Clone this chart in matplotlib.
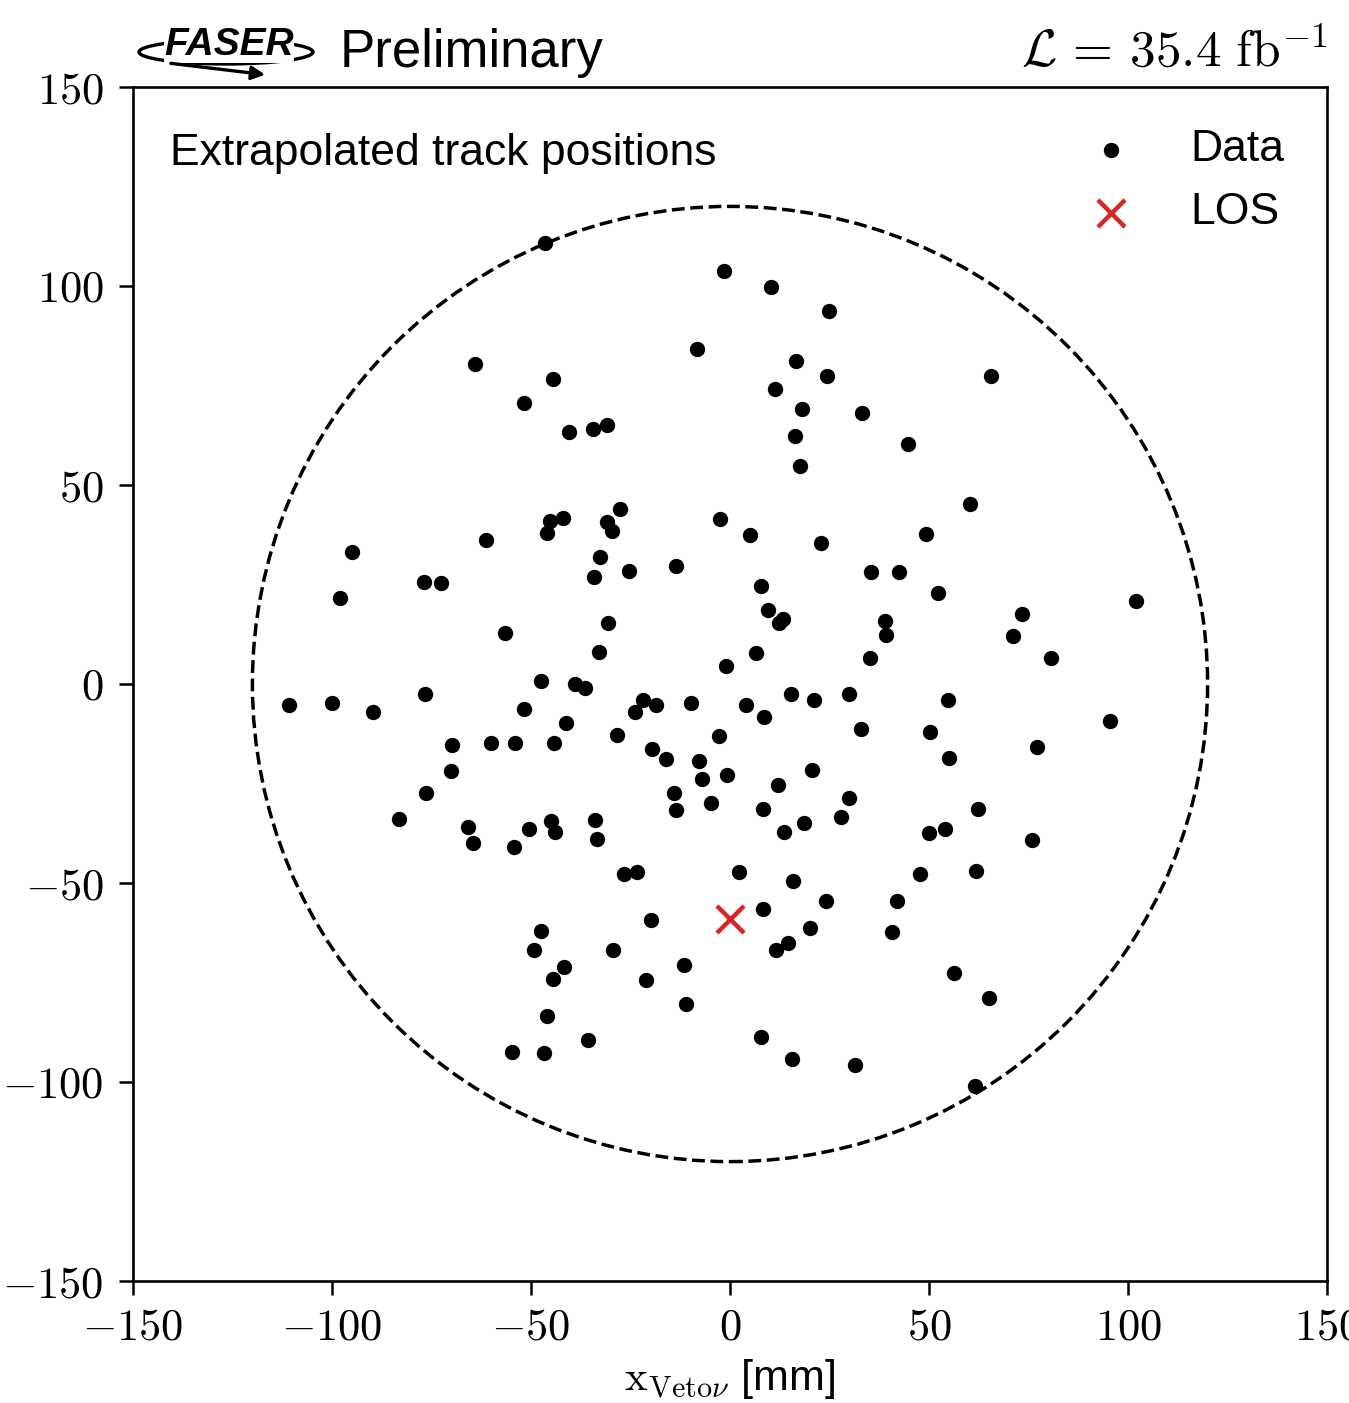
import matplotlib.pyplot as plt
from matplotlib.patches import Circle, Ellipse
from matplotlib.ticker import FixedLocator, FuncFormatter

plt.rcParams['font.family'] = ['Liberation Sans', 'DejaVu Sans']
plt.rcParams['mathtext.fontset'] = 'cm'

# extrapolated track positions at the veto station [mm]
track_x = [-46.5, -1.5, 10.3, 24.9, -64.1, -8.3, -44.5, 16.6, 24.4, 11.3,
           65.6, -51.8, 18.1, 33.2, -40.5, -34.4, -30.9, 16.3, 44.7, 17.6,
           60.3, -27.6, -42.0, -45.2, -30.9, -46.0, -29.6, -2.5, 5.0, 49.2,
           22.9, -61.3, -95.0, -32.7, -13.6, -25.4, -34.2, -76.9, -72.6, 35.4,
           42.5, 7.8, -98.0, 52.3, 102.0, 9.5, 12.3, 13.3, 38.9, 73.4,
           -30.7, -56.5, 71.1, 39.2, -32.9, 6.5, 35.2, 80.7, -1.0, -47.5,
           -38.9, -36.4, -76.6, -110.8, -100.0, -89.7, -51.8, -41.2, -21.9, -23.9,
           -18.6, -9.8, 4.0, 8.5, 15.3, 21.1, 29.9, 54.8, 32.9, 95.5,
           -69.8, -60.1, -54.0, -44.2, -28.4, -2.8, 50.3, -19.6, -16.1, -7.8,
           55.0, 77.1, -70.1, -7.0, -0.8, 20.6, 12.1, -76.4, -14.1, -13.6,
           -4.8, 29.9, -83.2, -33.9, 8.3, 27.9, 62.3, -65.8, -50.5, -45.0,
           -44.0, 13.6, 18.6, 50.0, 54.0, -64.6, -54.3, -33.4, 75.9, 2.3,
           -26.6, -23.4, 15.8, 47.7, 61.8, 24.1, 42.0, 8.3, -19.8, -47.5,
           -49.2, -29.4, 20.1, 14.6, 11.6, 40.7, -41.7, -44.5, -21.1, -11.6,
           56.3, -11.1, 65.1, -46.0, 7.8, -35.7, -54.8, -46.7, 15.6, 31.4,
           61.6]
track_y = [110.8, 103.8, 99.7, 93.7, 80.4, 84.2, 76.6, 81.2, 77.4, 74.1,
           77.4, 70.6, 69.1, 68.1, 63.3, 64.1, 65.1, 62.3, 60.3, 54.8,
           45.2, 44.0, 41.7, 41.0, 40.7, 37.9, 38.4, 41.5, 37.4, 37.7,
           35.4, 36.2, 33.2, 31.9, 29.6, 28.4, 26.9, 25.6, 25.4, 28.1,
           28.1, 24.6, 21.6, 22.9, 20.9, 18.6, 15.3, 16.3, 15.8, 17.6,
           15.3, 12.8, 12.1, 12.3, 8.0, 7.8, 6.5, 6.5, 4.5, 0.8,
           0.0, -1.0, -2.5, -5.3, -4.8, -7.0, -6.3, -9.8, -4.0, -7.0,
           -5.3, -4.8, -5.3, -8.3, -2.5, -4.0, -2.5, -4.0, -11.3, -9.3,
           -15.3, -14.8, -14.8, -14.8, -12.8, -13.1, -12.1, -16.3, -18.8, -19.3,
           -18.6, -15.8, -21.9, -23.9, -22.9, -21.6, -25.4, -27.4, -27.4, -31.7,
           -29.9, -28.6, -33.9, -34.2, -31.4, -33.4, -31.4, -35.9, -36.4, -34.4,
           -37.2, -37.2, -34.9, -37.4, -36.4, -39.9, -41.0, -38.9, -39.2, -47.2,
           -47.7, -47.2, -49.5, -47.7, -47.0, -54.5, -54.5, -56.5, -59.3, -62.1,
           -66.8, -66.8, -61.3, -65.1, -66.8, -62.3, -71.1, -74.1, -74.4, -70.6,
           -72.6, -80.4, -78.9, -83.4, -88.7, -89.4, -92.5, -92.7, -94.2, -95.7,
           -101.0]

# line of sight
los_x = [0.0]
los_y = [-59.0]

veto_radius = 120
axis_ticks = [-150, -100, -50, 0, 50, 100, 150]

W, H = 1349, 1403
fig = plt.figure(figsize=(W / 100, H / 100), dpi=100)
ax = fig.add_axes([133 / W, 122 / H, 1194 / W, 1194 / H])

ax.scatter(track_x, track_y, s=122, c='black', linewidths=0, label='Data', zorder=3)
ax.scatter(los_x, los_y, marker='x', s=380, c='#d62728', linewidths=3.2, label='LOS', zorder=4)
ax.add_patch(Circle((0, 0), veto_radius, fill=False, ls='--', lw=2.5, color='black'))

ax.set_xlim(-150, 150)
ax.set_ylim(-150, 150)
tick_fmt = FuncFormatter(lambda v, p: f'${v:.0f}$')
for axis in (ax.xaxis, ax.yaxis):
    axis.set_major_locator(FixedLocator(axis_ticks))
    axis.set_major_formatter(tick_fmt)
ax.tick_params(labelsize=32, length=10, width=1.8, direction='out', pad=9)
ax.tick_params(axis='y', pad=11)
for sp in ax.spines.values():
    sp.set_linewidth(1.9)

ax.set_xlabel(r'$\mathrm{x}_{\mathrm{Veto}\nu}$ [mm]', fontsize=31, labelpad=6)

ax.text(0.031, 0.935, 'Extrapolated track positions', transform=ax.transAxes,
        fontsize=32, va='baseline', ha='left')
ax.legend(loc='upper right', bbox_to_anchor=(1.0, 1.0), frameon=False, fontsize=32,
          handletextpad=0.8, labelspacing=0.5, borderaxespad=0.55)

# header
fig.text(340 / W, 1 - 67 / H, 'Preliminary', fontsize=38, va='baseline', ha='left')
fig.text(1327 / W, 1 - 67 / H, r'$\mathcal{L}\, =\, 35.4\ \mathrm{fb}^{-1}$', fontsize=37,
         va='baseline', ha='right')

# FASER logo: lettering, orbit ring and arrow
logo = fig.add_axes([0, 0, 1, 1], zorder=5)
logo.set_xlim(0, W)
logo.set_ylim(H, 0)
logo.axis('off')
logo.add_patch(Ellipse((226, 52), 174, 24, fill=False, lw=2.4, color='black'))
logo.text(229, 55, 'FASER', fontsize=28, fontweight='heavy', fontstyle='italic',
          ha='center', va='baseline', color='black',
          bbox=dict(facecolor='white', edgecolor='none', pad=0.3))
logo.annotate('', xy=(268, 75), xytext=(168, 63),
              arrowprops=dict(arrowstyle='-|>', lw=2.4, color='black', mutation_scale=20))

fig.savefig('out.png', dpi=100)
